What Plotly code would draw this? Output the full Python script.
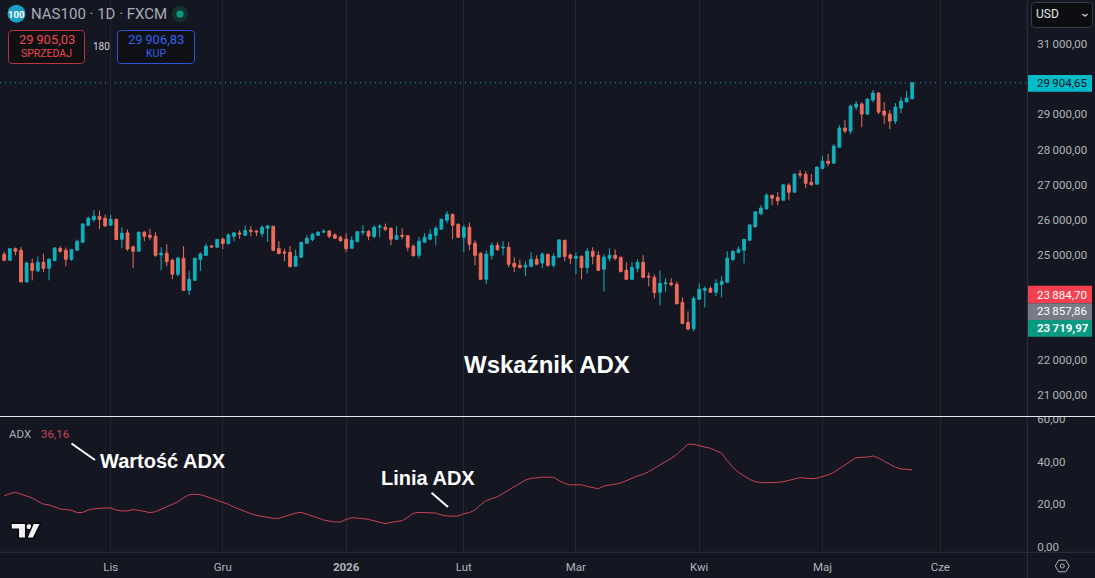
import plotly.graph_objects as go

# Daily NAS100 candles and the ADX(14) study below them
opens = [25010,24840,25170,25125,24220,24750,24540,24780,24610,24830,
         25180,25125,24865,25125,25350,25840,26000,26085,26040,25840,
         26010,25440,25620,25220,25095,25640,25550,25525,24990,25040,
         24840,24440,24895,23980,24265,24865,24980,25245,25210,25440,
         25315,25525,25620,25550,25695,25675,25600,25750,25810,25170,
         25075,25065,24665,24925,25325,25430,25550,25640,25675,25560,
         25495,25440,25180,25370,25640,25665,25515,25780,25780,25750,
         25440,25550,25540,25240,24980,25350,25440,25550,25725,25980,
         26150,25865,25495,25780,25325,25040,24295,24980,25265,25190,
         25210,24750,24695,24645,24665,24865,24760,25010,24695,24930,
         25410,24990,24895,24950,24635,25095,24980,24580,24895,24980,
         24925,24550,24295,24610,24780,24380,24350,23925,24170,24190,
         24150,23635,23065,22885,23725,23980,24035,23925,24150,24210,
         24865,25065,25125,25410,25790,26170,26305,26695,26635,26550,
         26980,26780,27305,27295,27065,27010,27455,27665,27610,28065,
         28610,28525,29210,29295,29010,29410,29610,29095,29010,28810,
         29180,29360,29445]
highs = [25085,25170,25200,25210,24800,24885,24950,25030,24895,25200,
         25240,25200,25140,25430,25895,26085,26265,26255,26140,26140,
         26010,25770,25715,25265,25645,25675,25740,25640,25210,25295,
         24885,24905,25240,24525,24915,25065,25315,25275,25440,25495,
         25610,25645,25695,25830,25810,25695,25840,25845,25810,25380,
         25160,25240,25140,25350,25550,25610,25665,25725,25695,25610,
         25535,25610,25525,25655,25840,25695,25840,25865,25885,25780,
         25810,25750,25550,25295,25505,25610,25725,25810,26010,26240,
         26170,25885,25840,25915,25410,25065,25125,25350,25350,25380,
         25350,24925,24855,24810,25065,24980,25065,25010,25035,25435,
         25410,25035,25065,24980,25180,25210,25095,25010,25180,25150,
         24925,24780,24780,24865,24980,24495,24435,24550,24325,24325,
         24235,23780,23380,23810,24180,24095,24095,24295,24380,25095,
         25125,25235,25435,25855,26235,26410,26750,26695,26780,27010,
         27035,27315,27410,27380,27295,27525,27810,27865,28150,28695,
         28835,29285,29380,29350,29465,29695,29635,29350,29125,29325,
         29495,29665,29925]
lows = [24810,24840,24980,24220,24220,24265,24505,24505,24265,24810,
        25055,24665,24820,25125,25350,25810,25925,25725,25790,25840,
        25410,25180,25105,24610,25095,25380,25410,24935,24550,24665,
        24295,24380,23980,23845,24265,24535,24980,25200,25210,25160,
        25285,25380,25445,25535,25525,25525,25505,25360,25095,25010,
        24810,24640,24665,24925,25315,25380,25550,25640,25465,25445,
        25360,25065,25180,25350,25550,25410,25465,25495,25665,25265,
        25410,25440,25095,24950,24895,25345,25410,25265,25725,25895,
        25440,25475,25065,25125,24695,24295,24150,24865,25105,24980,
        24640,24495,24610,24380,24640,24695,24610,24645,24635,24925,
        24810,24725,24435,24295,24465,24725,24530,23950,24810,24835,
        24495,24295,24265,24495,24325,24095,23750,23550,23925,24095,
        23580,23035,22835,22810,23725,23495,23925,23810,23780,24210,
        24810,25035,24750,25410,25780,26125,26295,26410,26410,26550,
        26550,26780,27180,26895,26980,27010,27435,27525,27610,28065,
        28465,28435,29125,28635,28980,29350,29010,28725,28580,28725,
        29035,29350,29445]
closes = [24840,25170,25095,24220,24760,24550,24780,24610,24865,25190,
          25095,24865,25140,25380,25875,26040,26095,26010,25820,26010,
          25430,25610,25160,25095,25640,25525,25495,24980,25040,24800,
          24440,24905,23980,24295,24895,25020,25240,25220,25430,25315,
          25560,25620,25590,25685,25665,25645,25780,25820,25125,25030,
          25045,24655,24950,25350,25465,25580,25640,25665,25525,25465,
          25400,25170,25410,25655,25655,25525,25780,25810,25725,25440,
          25540,25525,25210,24970,25380,25495,25580,25750,26010,26150,
          25840,25495,25780,25295,24980,24295,25010,25265,25140,25210,
          24725,24655,24630,24695,24865,24725,25010,24695,24950,25420,
          24950,24895,24950,24635,25095,24950,24550,24925,24980,24895,
          24515,24295,24635,24780,24350,24360,23915,24180,24190,24150,
          23600,23035,22875,23750,24010,24035,23925,24180,24235,24895,
          25095,25150,25435,25845,26220,26330,26695,26610,26540,26990,
          26780,27295,27275,27035,26990,27495,27665,27610,28095,28610,
          28525,29235,29295,29010,29435,29610,29065,28980,28810,29210,
          29380,29465,29904.65]
adx = [23.9,25.0,25.6,24.8,23.9,23.0,21.4,20.1,19.7,18.6,17.8,17.5,17.2,16.1,16.2,17.3,17.9,18.1,18.3,18.3,
       17.3,16.9,16.9,17.5,17.2,16.7,16.1,16.5,17.8,18.9,20.0,21.2,23.1,24.5,24.7,24.5,23.7,22.8,21.9,21.1,
       20.0,18.7,17.6,16.5,15.6,14.8,14.3,13.6,13.4,13.4,14.2,15.0,15.9,16.2,15.4,14.7,13.6,12.6,12.2,11.7,
       11.7,12.9,13.7,13.6,13.3,12.9,12.2,11.4,10.9,11.5,12.0,12.3,13.9,15.8,16.2,16.1,15.9,15.9,15.0,14.5,
       14.4,14.5,15.6,16.1,17.3,19.8,21.7,22.8,23.6,25.1,26.7,28.3,29.8,31.4,32.2,32.5,32.7,32.7,32.7,31.1,
       29.8,29.1,29.1,29.2,28.4,27.7,27.3,28.6,28.9,29.5,30.0,31.2,32.2,33.3,34.1,35.3,36.9,38.4,40.2,41.6,
       43.5,46.1,48.2,48.2,47.5,46.9,46.3,45.2,43.9,40.5,37.4,35.0,33.3,31.7,30.6,30.2,30.2,30.2,30.3,30.6,
       31.1,31.9,32.5,32.2,32.0,32.3,33.0,33.8,35.0,36.9,38.4,40.3,41.9,41.9,42.2,42.7,41.7,40.2,38.6,37.4,
       36.6,36.3,36.16]

price_ticks = [31000,30000,29000,28000,27000,26000,25000,24000,23000,22000,21000]
price_tick_text = ["31\u2009000,00","30\u2009000,00","29\u2009000,00","28\u2009000,00","27\u2009000,00","26\u2009000,00",
                   "25\u2009000,00","24\u2009000,00","23\u2009000,00","22\u2009000,00","21\u2009000,00"]
adx_ticks = [0,20,40,60]
adx_tick_text = ["0,00","20,00","40,00","60,00"]
month_ticks = [19,39,61,82,102,124,146,167]
month_text = ["Lis","Gru","<b>2026</b>","Lut","Mar","Kwi","Maj","Cze"]

last_price = 29904.65

BG = "#141722"
UP = "#10B1BE"
DOWN = "#EE6C5A"
ADX_RED = "#C9424F"
GRID = "#23262F"
BORDER = "#2E313B"
AXIS_TEXT = "#B0B3BC"
FONT = "Roboto"

W, H, AXIS_W, AXIS_H = 1095, 578, 68, 26
PW, PH = W - AXIS_W, H - AXIS_H
SPLIT = 416.5


def px(x):
    return x / PW


def py(y):
    return 1 - y / PH


def path_of(points, close=True):
    d = "M" + " L".join(f"{px(x):.5f},{py(y):.5f}" for x, y in points)
    return d + (" Z" if close else "")


def rounded(x0, y0, x1, y1, r):
    a, b = px(x0), py(y0)
    c, d = px(x1), py(y1)
    rx, ry = r / PW, r / PH
    return (f"M{a+rx:.5f},{b:.5f} L{c-rx:.5f},{b:.5f} Q{c:.5f},{b:.5f} {c:.5f},{b-ry:.5f} "
            f"L{c:.5f},{d+ry:.5f} Q{c:.5f},{d:.5f} {c-rx:.5f},{d:.5f} L{a+rx:.5f},{d:.5f} "
            f"Q{a:.5f},{d:.5f} {a:.5f},{d+ry:.5f} L{a:.5f},{b-ry:.5f} Q{a:.5f},{b:.5f} {a+rx:.5f},{b:.5f} Z")


def pshape(**kw):
    base = dict(xref="paper", yref="paper", layer="above")
    base.update(kw)
    return base


def rect(x0, y0, x1, y1, fill, line=None):
    return pshape(type="rect", x0=px(x0), x1=px(x1), y0=py(y0), y1=py(y1), fillcolor=fill,
                  line=dict(width=1 if line else 0, color=line or fill))


def seg(pts, color, width=1):
    return pshape(type="path", path=path_of(pts, close=False), line=dict(color=color, width=width))


def circle(cx, cy, r, fill, line=None, width=0):
    return pshape(type="circle", x0=px(cx - r), x1=px(cx + r), y0=py(cy + r), y1=py(cy - r),
                  fillcolor=fill, line=dict(color=line or fill, width=width))


def note(text, x, y, size=12, color=AXIS_TEXT, anchor="left", family=FONT):
    return dict(text=text, xref="paper", yref="paper", x=px(x), y=py(y), xanchor=anchor, yanchor="middle",
                showarrow=False, borderpad=0, font=dict(size=size, color=color, family=family))


index = list(range(len(closes)))

fig = go.Figure()
fig.add_trace(go.Candlestick(
    x=index, open=opens, high=highs, low=lows, close=closes, xaxis="x2", yaxis="y",
    increasing=dict(line=dict(color=UP, width=1), fillcolor=UP),
    decreasing=dict(line=dict(color=DOWN, width=1), fillcolor=DOWN),
    whiskerwidth=0, hoverinfo="skip", showlegend=False))
fig.add_trace(go.Scatter(x=index, y=adx, mode="lines", xaxis="x", yaxis="y2",
                         line=dict(color=ADX_RED, width=1), hoverinfo="skip", showlegend=False))

shapes = [
    # last-price guide
    dict(type="line", xref="paper", yref="y", x0=0, x1=1, y0=last_price, y1=last_price, layer="below",
         line=dict(color="#12A9B4", width=1, dash="1px,4px")),
    # scale separators
    rect(PW + 0.5, 405, W, SPLIT - 0.5, BG),
    seg([(0, SPLIT), (W, SPLIT)], "#E8E9EC", 1),
    seg([(0, PH + 0.3), (W, PH + 0.3)], BORDER, 1),
    seg([(PW + 0.3, 0), (PW + 0.3, SPLIT - 0.5)], BORDER, 1),
    seg([(PW + 0.3, SPLIT + 0.5), (PW + 0.3, H)], BORDER, 1),
    # price tags on the right-hand scale
    rect(1028, 75, 1092, 91.7, "#00BCC8"),
    rect(1028, 285.7, 1092, 303.3, "#F6404F"),
    rect(1028, 303.3, 1092, 320, "#787B86"),
    rect(1028, 320, 1092, 336.7, "#089981"),
    # currency selector
    pshape(type="path", path=rounded(1031.5, 2.5, 1092.5, 27.5, 4), fillcolor="#0C0D11",
           line=dict(color="#3A3D47", width=1)),
    seg([(1082.5, 14), (1085, 16.3), (1087.5, 14)], "#D1D4DC", 1.2),
    # symbol badge and market status
    circle(16.5, 13.7, 9, "#1C9FC4"),
    circle(180, 14, 8, "#10332F"),
    circle(180, 14, 3.6, "#089981"),
    # order buttons
    pshape(type="path", path=rounded(8.5, 30.5, 84.5, 63.5, 4), fillcolor="#0F1014",
           line=dict(color="#B8353F", width=1)),
    pshape(type="path", path=rounded(117.5, 30.5, 194.5, 63.5, 4), fillcolor="#0F1014",
           line=dict(color="#2A56D8", width=1)),
    # callout strokes
    seg([(71.5, 443.5), (95, 460)], "#FFFFFF", 2),
    seg([(431.5, 492.7), (448, 507)], "#FFFFFF", 2),
    # brand mark
    pshape(type="path", path=path_of([(11, 523.3), (25.7, 523.3), (25.7, 538.3), (18.3, 538.3), (18.3, 529.3), (11, 529.3)]),
           fillcolor="#F2F2F3", line=dict(color="#08090C", width=1.5)),
    circle(29, 526.7, 3, "#F2F2F3", "#08090C", 1),
    pshape(type="path", path=path_of([(26.7, 538.3), (33.3, 523.3), (40.7, 523.3), (33.3, 538.3)]),
           fillcolor="#F2F2F3", line=dict(color="#08090C", width=1.5)),
    # scale settings icon
    pshape(type="path", path=path_of([(1055.3, 566), (1058.8, 560.2), (1065.8, 560.2), (1069.3, 566), (1065.8, 571.8), (1058.8, 571.8)]),
           fillcolor="rgba(0,0,0,0)", line=dict(color=AXIS_TEXT, width=1)),
    circle(1062.3, 566, 2, "rgba(0,0,0,0)", AXIS_TEXT, 1),
]

annotations = [
    note("<b>100</b>", 16.5, 14, size=9.5, color="#FFFFFF", anchor="center"),
    note("NAS100 · 1D · FXCM", 30, 14.5, size=15, color="#A8ABB5"),
    note("29\u2009905,03", 46.5, 40, size=13, color="#F0454F", anchor="center"),
    note("SPRZEDAJ", 46.5, 54, size=10.5, color="#F0454F", anchor="center"),
    note("180", 101.5, 46.5, size=10, color="#D1D4DC", anchor="center"),
    note("29\u2009906,83", 156, 40, size=13, color="#2F62F0", anchor="center"),
    note("KUP", 156, 54, size=10.5, color="#2F62F0", anchor="center"),
    note("USD", 1035, 14.5, size=12, color="#E4E6EB"),
    note("29\u2009904,65", 1036, 83, size=11.5, color="#10141D"),
    note("23\u2009884,70", 1036, 294.5, size=11.5, color="#FFFFFF"),
    note("23\u2009857,86", 1036, 311, size=11.5, color="#FFFFFF"),
    note("<b>23\u2009719,97</b>", 1036, 328, size=11.5, color="#FFFFFF"),
    note("ADX", 8, 434, size=11.5, color="#A8ABB5"),
    note("36,16", 39.5, 434, size=11.5, color="#C9424F"),
    note("<b>Wskaźnik ADX</b>", 547, 364, size=24, color="#FFFFFF", anchor="center", family="Liberation Sans"),
    note("<b>Wartość ADX</b>", 162.5, 461, size=20, color="#FFFFFF", anchor="center", family="Liberation Sans"),
    note("<b>Linia ADX</b>", 427.5, 477.5, size=20, color="#FFFFFF", anchor="center", family="Liberation Sans"),
]

x_range = [(0 - 4.2) / 5.605, (PW - 4.2) / 5.605]
tick_font = dict(size=11.5, color=AXIS_TEXT, family=FONT)
common_x = dict(range=x_range, tickmode="array", tickvals=month_ticks, showgrid=True, gridcolor=GRID, gridwidth=1,
                zeroline=False, showline=False, fixedrange=True, automargin=False)

fig.update_layout(
    width=W, height=H, autosize=False,
    margin=dict(l=0, r=AXIS_W, t=0, b=AXIS_H, pad=0),
    paper_bgcolor=BG, plot_bgcolor=BG,
    showlegend=False, hovermode=False,
    font=dict(family=FONT, color=AXIS_TEXT),
    xaxis=dict(common_x, anchor="y2", side="bottom", ticktext=month_text, ticks="outside", ticklen=4,
               tickcolor="rgba(0,0,0,0)", tickfont=tick_font, tickangle=0, domain=[0, 1]),
    xaxis2=dict(common_x, anchor="y", showticklabels=False, ticks="", rangeslider=dict(visible=False), domain=[0, 1]),
    yaxis=dict(domain=[1 - SPLIT / PH, 1], range=[20380, 32265.7], side="right", tickmode="array",
               tickvals=price_ticks, ticktext=price_tick_text, ticks="outside", ticklen=7,
               tickcolor="rgba(0,0,0,0)", tickfont=tick_font, showgrid=False, zeroline=False, showline=False,
               fixedrange=True, automargin=False),
    yaxis2=dict(domain=[0, 1 - (SPLIT + 0.5) / PH], range=[-2.4, 61], side="right", tickmode="array",
                tickvals=adx_ticks, ticktext=adx_tick_text, ticks="outside", ticklen=7,
                tickcolor="rgba(0,0,0,0)", tickfont=tick_font, showgrid=False, zeroline=False, showline=False,
                fixedrange=True, automargin=False),
    shapes=shapes, annotations=annotations,
)

fig.write_html("out.html", config=dict(displayModeBar=False))
